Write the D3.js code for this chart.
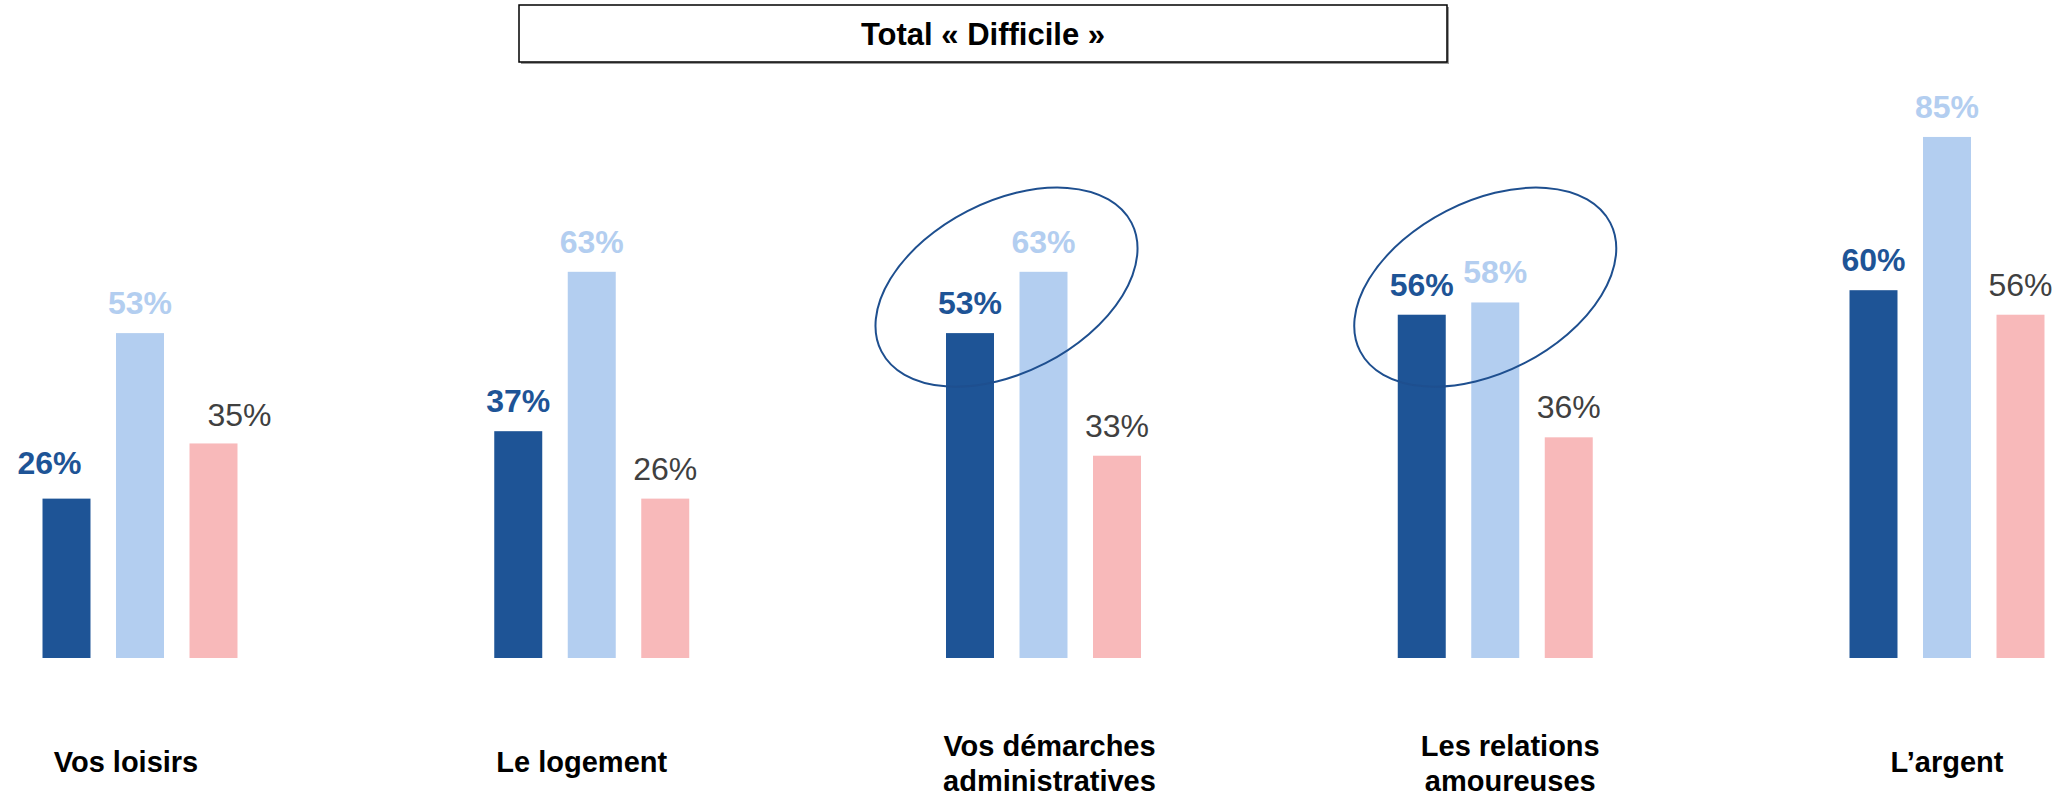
<!DOCTYPE html>
<html>
<head>
<meta charset="utf-8">
<title>Total « Difficile »</title>
<script src="https://d3js.org/d3.v7.min.js" charset="utf-8"></script>
<style>
*{
	margin: 0;
	padding: 0;
}
body{
	background: #fff;
}
text{
	font-family: "Liberation Sans", Arial, sans-serif;
}
</style>
</head>
<body>

<script>

	var width = 2065;
	var height = 796;

	var categories = ["Vos loisirs", "Le logement", "Vos démarches\nadministratives", "Les relations\namoureuses", "L\u2019argent"];
	var series = ["serie1", "serie2", "serie3"];
	var serie1 = [26, 37, 53, 56, 60];
	var serie2 = [53, 63, 63, 58, 85];
	var serie3 = [35, 26, 33, 36, 56];
	var title = "Total « Difficile »";

	// entourages sur deux groupes
	var highlights = [{cat: categories[2], dx: -37, v: 60.5},
					  {cat: categories[3], dx: -10, v: 60.5}];

	// petits décalages des textes, comme sur la diapo
	var catShift = [-14, -10, 6, 15, 0];
	var valShift = {"Vos loisirs|serie1": [-17, -6], "Vos loisirs|serie3": [26, 2]};

	var barColors = {serie1: "#1e5496", serie2: "#b3cef0", serie3: "#f8b9ba"};
	var labelColors = {serie1: "#1e5496", serie2: "#b3cef0", serie3: "#404040"};
	var labelWeights = {serie1: "bold", serie2: "bold", serie3: "normal"};

	var rows = [];
	categories.forEach(function(c, i){
		rows.push({cat: c, serie: "serie1", v: serie1[i]});
		rows.push({cat: c, serie: "serie2", v: serie2[i]});
		rows.push({cat: c, serie: "serie3", v: serie3[i]});
	});

	var svg = d3.select("body")
				.append("svg")
				.attr("width", width)
				.attr("height", height);

	var x = d3.scalePoint()
				.domain(categories)
				.range([140, 1947]);

	var xs = d3.scaleBand()
				.domain(series)
				.range([-110.25, 110.25])
				.paddingInner(0.347)
				.paddingOuter(0.1735);

	var y = d3.scaleLinear()
				.domain([0, 100])
				.range([658, 45]);

	// titre
	svg.append("rect")
		.attr("x", 521)
		.attr("y", 7)
		.attr("width", 928)
		.attr("height", 57)
		.attr("fill", "#999");
	svg.append("rect")
		.attr("x", 519)
		.attr("y", 5)
		.attr("width", 928)
		.attr("height", 57)
		.attr("fill", "#fff")
		.attr("stroke", "#000")
		.attr("stroke-width", 1.5);
	svg.append("text")
		.attr("x", 983)
		.attr("y", 45)
		.attr("text-anchor", "middle")
		.attr("font-size", 31)
		.attr("font-weight", "bold")
		.attr("fill", "#000")
		.text(title);

	// barres
	svg.selectAll("rect.bar").data(rows).enter().append("rect")
		.attr("class", "bar")
		.attr("x", (d)=>x(d.cat) + xs(d.serie))
		.attr("y", (d)=>y(d.v))
		.attr("width", xs.bandwidth())
		.attr("height", (d)=>y(0) - y(d.v))
		.attr("fill", (d)=>barColors[d.serie]);

	// valeurs
	function shift(d){
		return valShift[d.cat + "|" + d.serie] || [0, 0];
	}
	svg.selectAll("text.val").data(rows).enter().append("text")
		.attr("class", "val")
		.attr("x", (d)=>x(d.cat) + xs(d.serie) + xs.bandwidth() / 2 + shift(d)[0])
		.attr("y", (d)=>y(d.v) - 19 + shift(d)[1])
		.attr("text-anchor", "middle")
		.attr("font-size", 32)
		.attr("font-weight", (d)=>labelWeights[d.serie])
		.attr("fill", (d)=>labelColors[d.serie])
		.text((d)=>d.v + "%");

	// ellipses
	svg.selectAll("ellipse").data(highlights).enter().append("ellipse")
		.attr("transform", (d)=>"translate(" + (x(d.cat) + d.dx) + "," + y(d.v) + ") rotate(-27.2)")
		.attr("rx", 140.6)
		.attr("ry", 85.5)
		.attr("fill", "none")
		.attr("stroke", "#1e4f8f")
		.attr("stroke-width", 2);

	// libellés
	var labels = svg.selectAll("text.cat").data(categories).enter().append("text")
		.attr("class", "cat")
		.attr("text-anchor", "middle")
		.attr("font-size", 29)
		.attr("font-weight", "bold")
		.attr("fill", "#000")
		.attr("y", (d)=>d.indexOf("\n") >= 0 ? 756 : 772);

	labels.selectAll("tspan").data((d, i)=>d.split("\n").map((t)=>({t: t, c: d, i: i}))).enter().append("tspan")
		.attr("x", (d)=>x(d.c) + catShift[d.i])
		.attr("dy", (d, i)=>i == 0 ? 0 : 35)
		.text((d)=>d.t);

</script>

</body>
</html>
